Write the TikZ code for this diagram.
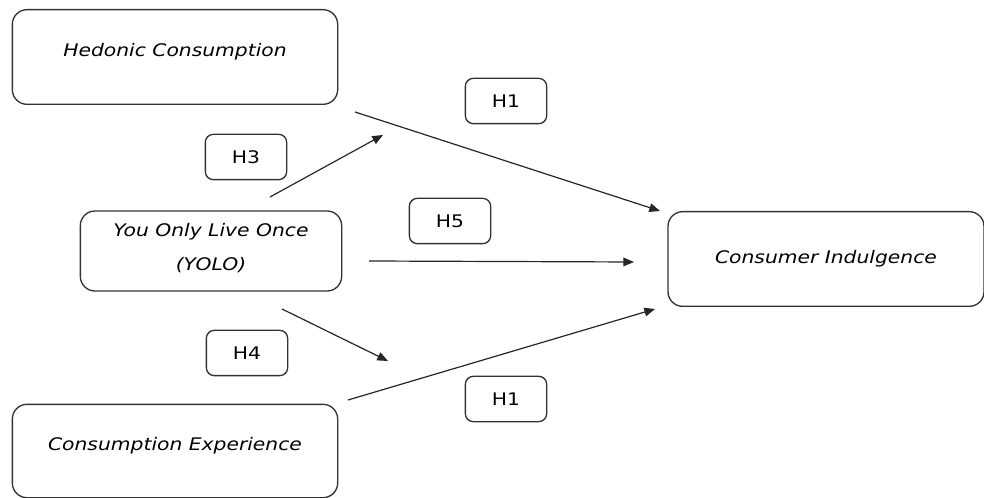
\documentclass[tikz,border=0pt]{standalone}
\usepackage{fontspec}
\setmainfont{DejaVu Sans}[FakeStretch=1.17]
\usetikzlibrary{arrows.meta}

\begin{document}
\begin{tikzpicture}[x=0.75pt, y=-0.75pt, every node/.style={font=\fontsize{13}{15}\selectfont}]

		\tikzset{construct/.style={draw=black!80, line width=1pt, rounded corners=11pt, font=\fontsize{13}{15}\selectfont\itshape, align=center, inner sep=0pt},
		hyp/.style={draw=black!80, line width=1pt, rounded corners=6pt, minimum width=61pt, minimum height=34pt, inner sep=0pt},
		path/.style={-{Triangle[length=8pt, width=6.5pt]}, line width=0.9pt, black!85}}

		\useasboundingbox (0,0) rectangle (984,498);

		% constructs
		\node[construct, minimum width=244pt, minimum height=71pt, text depth=11pt] (hedonic) at (175,57) {Hedonic Consumption};
		\node[construct, minimum width=196pt, minimum height=60pt, text depth=6pt] (yolo) at (211,251) {You Only Live Once\\[10pt](YOLO)};
		\node[construct, minimum width=244pt, minimum height=70pt, text depth=10pt] (experience) at (175,451) {Consumption Experience};
		\node[construct, minimum width=237pt, minimum height=71pt] (indulgence) at (826,259) {Consumer Indulgence};

		% hypotheses
		\node[hyp] (h1a) at (506,101) {H1};
		\node[hyp] (h3) at (246,157) {H3};
		\node[hyp] (h5) at (450,221) {H5};
		\node[hyp] (h4) at (247,353) {H4};
		\node[hyp] (h1b) at (506,399) {H1};

		% free ends of the paths
		\coordinate (p1s) at (355,112); \coordinate (p1e) at (660,211);
		\coordinate (p3s) at (270,197); \coordinate (p3e) at (383,135);
		\coordinate (p5s) at (369,261); \coordinate (p5e) at (634,262);
		\coordinate (p4s) at (282,309); \coordinate (p4e) at (388,361);
		\coordinate (p2s) at (348,400); \coordinate (p2e) at (655,309);

		\foreach \s/\e in {p1s/p1e, p3s/p3e, p5s/p5e, p4s/p4e, p2s/p2e}{\draw[path] (\s) -- (\e);}
	\end{tikzpicture}
\end{document}
